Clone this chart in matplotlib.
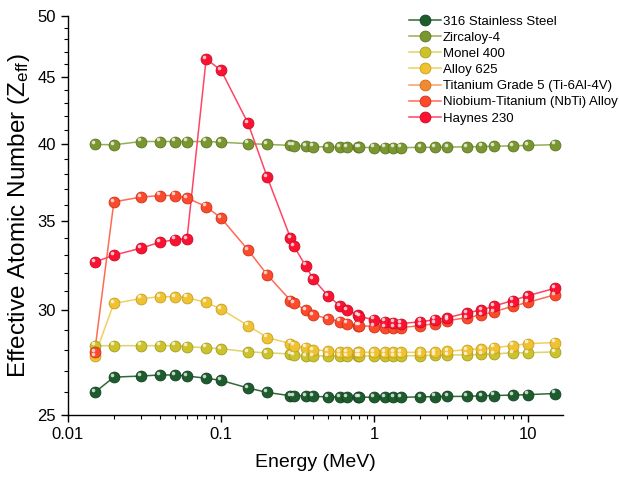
import matplotlib
matplotlib.use('Agg')
import matplotlib.pyplot as plt
import matplotlib.transforms as mtransforms
from matplotlib.ticker import FixedLocator, NullFormatter, LogLocator, FuncFormatter

plt.rcParams['font.family'] = ['Liberation Sans', 'DejaVu Sans']
plt.rcParams['mathtext.fontset'] = 'custom'
plt.rcParams['mathtext.rm'] = 'Liberation Sans'
plt.rcParams['mathtext.it'] = 'Liberation Sans'

# photon energies (MeV)
energy = [0.015, 0.02, 0.03, 0.04, 0.05, 0.06, 0.08, 0.1, 0.15, 0.2,
          0.284, 0.3, 0.356, 0.4, 0.5, 0.6, 0.662, 0.78, 0.8, 1.0,
          1.173, 1.332, 1.5, 2.0, 2.5, 3.0, 4.0, 5.0, 6.0, 8.0, 10.0, 15.0]

zeff_ss316 = [26.0, 26.7, 26.75, 26.8, 26.8, 26.75, 26.65, 26.55, 26.2, 26.0,
              25.85, 25.85, 25.85, 25.82, 25.8, 25.8, 25.8, 25.79, 25.79, 25.78,
              25.78, 25.78, 25.78, 25.8, 25.81, 25.82, 25.82, 25.85, 25.86, 25.88, 25.9, 25.95]
zeff_zircaloy = [40.0, 39.97, 40.2, 40.2, 40.2, 40.2, 40.2, 40.15, 40.05, 40.0,
                 39.93, 39.92, 39.88, 39.85, 39.82, 39.8, 39.8, 39.79, 39.79, 39.78,
                 39.78, 39.78, 39.78, 39.79, 39.8, 39.81, 39.83, 39.85, 39.87, 39.9, 39.93, 39.98]
zeff_monel = [28.2, 28.2, 28.2, 28.2, 28.2, 28.15, 28.1, 28.05, 27.9, 27.85,
              27.8, 27.75, 27.7, 27.7, 27.7, 27.7, 27.7, 27.7, 27.7, 27.7,
              27.7, 27.7, 27.7, 27.72, 27.74, 27.75, 27.75, 27.77, 27.8, 27.85, 27.85, 27.9]
zeff_alloy625 = [27.7, 30.35, 30.6, 30.7, 30.7, 30.65, 30.4, 30.05, 29.2, 28.6,
                 28.3, 28.2, 28.1, 28.0, 27.95, 27.9, 27.9, 27.88, 27.88, 27.87,
                 27.87, 27.87, 27.87, 27.88, 27.9, 27.93, 28.0, 28.05, 28.1, 28.2, 28.3, 28.35]
zeff_ti64 = []  # below the plotted Zeff range
zeff_nbti = [27.9, 36.2, 36.5, 36.6, 36.6, 36.45, 35.9, 35.2, 33.3, 31.9,
             30.5, 30.35, 30.0, 29.75, 29.55, 29.4, 29.3, 29.2, 29.2, 29.15,
             29.1, 29.1, 29.1, 29.2, 29.3, 29.45, 29.6, 29.75, 29.9, 30.2, 30.4, 30.8]
zeff_haynes = [32.6, 33.0, 33.4, 33.75, 33.9, 33.95, 46.4, 45.5, 41.5, 37.8,
               34.0, 33.5, 32.4, 31.65, 30.75, 30.2, 30.0, 29.74, 29.66, 29.5,
               29.4, 29.35, 29.3, 29.4, 29.5, 29.6, 29.85, 30.0, 30.2, 30.5, 30.75, 31.15]

labels = ['316 Stainless Steel', 'Zircaloy-4', 'Monel 400', 'Alloy 625',
          'Titanium Grade 5 (Ti-6Al-4V)', 'Niobium-Titanium (NbTi) Alloy', 'Haynes 230']
series = [zeff_ss316, zeff_zircaloy, zeff_monel, zeff_alloy625, zeff_ti64, zeff_nbti, zeff_haynes]
face_colors = ['#1d5c2c', '#7a9630', '#cbc22c', '#efc232', '#f28a30', '#fb4a2c', '#fb1232']
line_colors = ['#2f6a3a', '#95ad55', '#ddd46a', '#f2cf5e', '#f5a060', '#ff6a55', '#ff4466']
edge_colors = ['#134020', '#5c7420', '#a59d1c', '#c99d1e', '#c86a1c', '#cf3018', '#c80a22']

fig = plt.figure(figsize=(6.19, 4.82), dpi=100)
ax = fig.add_axes([0.1094, 0.139, 0.800, 0.828])

# small offset so the glossy spot sits up-left on each ball
shine = mtransforms.offset_copy(ax.transData, fig=fig, x=-1.3, y=1.6, units='points')

handles = []
for lab, z, fc, lc, ec in zip(labels, series, face_colors, line_colors, edge_colors):
    x = energy[:len(z)]
    ax.plot(x, z, '-', color=lc, lw=1.1, zorder=2)
    ax.plot(x, z, 'o', ms=7.8, mfc=fc, mec=ec, mew=0.6, zorder=3)
    ax.plot(x, z, 'o', ms=2.6, mfc='white', mec='none', alpha=0.75,
            transform=shine, zorder=4)
    h, = ax.plot([], [], '-o', color=lc, lw=1.1, ms=7.8, mfc=fc, mec=ec, mew=0.6)
    handles.append(h)

ax.set_xscale('log')
ax.set_yscale('log')
ax.set_xlim(0.01, 17)
ax.set_ylim(25, 50)

ax.xaxis.set_major_locator(FixedLocator([0.01, 0.1, 1, 10]))
ax.xaxis.set_major_formatter(FuncFormatter(lambda v, p: f'{v:g}'))
ax.xaxis.set_minor_locator(LogLocator(base=10, subs=range(2, 10)))
ax.xaxis.set_minor_formatter(NullFormatter())

ax.yaxis.set_major_locator(FixedLocator([25, 30, 35, 40, 45, 50]))
ax.yaxis.set_major_formatter(FuncFormatter(lambda v, p: f'{v:g}'))
ax.yaxis.set_minor_locator(FixedLocator([v for v in range(26, 50) if v % 5]))
ax.yaxis.set_minor_formatter(NullFormatter())

ax.tick_params(which='major', direction='out', length=5, width=1, labelsize=12)
ax.tick_params(which='minor', direction='out', length=3, width=0.8)
for s in ['top', 'right']:
    ax.spines[s].set_visible(False)
for s in ['left', 'bottom']:
    ax.spines[s].set_linewidth(1)

ax.set_xlabel('Energy (MeV)', fontsize=14, labelpad=9)
ax.set_ylabel(r'Effective Atomic Number (Z$_{\mathrm{eff}}$)', fontsize=17.5, labelpad=4)

ax.legend(handles, labels, loc='upper left', bbox_to_anchor=(404 / 619, 1 - 10 / 482),
          bbox_transform=fig.transFigure, frameon=False, fontsize=9.5,
          handlelength=2.4, handletextpad=0.15, labelspacing=0.3, borderaxespad=0)

fig.savefig('out.png', dpi=100)
